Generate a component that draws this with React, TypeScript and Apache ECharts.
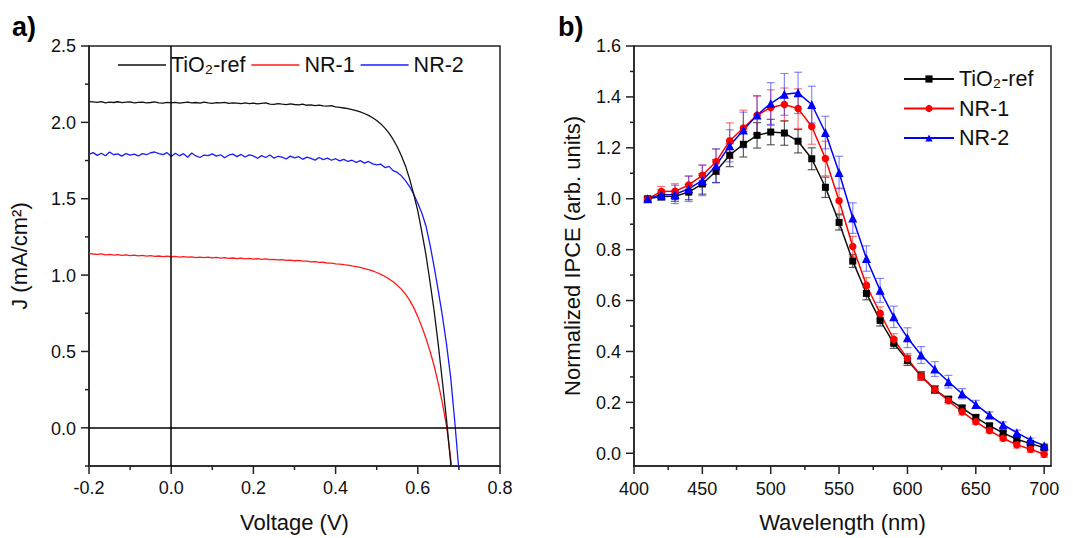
import React, { useEffect, useRef } from 'react';
import * as echarts from 'echarts';

// ---------- Panel a: J-V curves ----------
const voltage = [
  -0.2, -0.19, -0.18, -0.17, -0.16, -0.15, -0.14, -0.13, -0.12, -0.11,
  -0.1, -0.09, -0.08, -0.07, -0.06, -0.05, -0.04, -0.03, -0.02, -0.01,
  0.0, 0.01, 0.02, 0.03, 0.04, 0.05, 0.06, 0.07, 0.08, 0.09,
  0.1, 0.11, 0.12, 0.13, 0.14, 0.15, 0.16, 0.17, 0.18, 0.19,
  0.2, 0.21, 0.22, 0.23, 0.24, 0.25, 0.26, 0.27, 0.28, 0.29,
  0.3, 0.31, 0.32, 0.33, 0.34, 0.35, 0.36, 0.37, 0.38, 0.39,
  0.4, 0.41, 0.42, 0.43, 0.44, 0.45, 0.46, 0.47, 0.48, 0.49,
  0.5, 0.51, 0.52, 0.53, 0.54, 0.55, 0.56, 0.57, 0.58, 0.59,
  0.6, 0.61, 0.62, 0.63, 0.64, 0.65, 0.66, 0.67, 0.68, 0.69,
  0.7,
];

const jTio2 = [
  2.136, 2.134, 2.131, 2.136, 2.128, 2.133, 2.130, 2.135, 2.129, 2.132,
  2.134, 2.128, 2.131, 2.133, 2.127, 2.130, 2.134, 2.128, 2.126, 2.131,
  2.128, 2.131, 2.126, 2.129, 2.132, 2.127, 2.130, 2.126, 2.133, 2.128,
  2.125, 2.129, 2.127, 2.131, 2.124, 2.128, 2.126, 2.122, 2.127, 2.123,
  2.126, 2.121, 2.124, 2.127, 2.120, 2.118, 2.123, 2.119, 2.116, 2.121,
  2.117, 2.114, 2.119, 2.112, 2.115, 2.110, 2.113, 2.108, 2.106, 2.109,
  2.102, 2.098, 2.094, 2.090, 2.084, 2.077, 2.068, 2.058, 2.046, 2.030,
  2.012, 1.990, 1.962, 1.930, 1.888, 1.840, 1.782, 1.715, 1.630, 1.530,
  1.420, 1.280, 1.130, 0.950, 0.760, 0.540, 0.300, 0.050, -0.230, -0.560,
  -0.900,
];

const jNr1 = [
  1.142, 1.138, 1.136, 1.139, 1.133, 1.135, 1.131, 1.134, 1.129, 1.132,
  1.128, 1.131, 1.126, 1.129, 1.124, 1.127, 1.122, 1.125, 1.121, 1.124,
  1.120, 1.123, 1.118, 1.121, 1.117, 1.119, 1.115, 1.118, 1.114, 1.117,
  1.113, 1.116, 1.111, 1.114, 1.110, 1.112, 1.108, 1.111, 1.106, 1.109,
  1.105, 1.108, 1.103, 1.106, 1.101, 1.103, 1.099, 1.101, 1.096, 1.098,
  1.094, 1.096, 1.091, 1.092, 1.087, 1.088, 1.083, 1.084, 1.079, 1.078,
  1.074, 1.072, 1.068, 1.065, 1.060, 1.056, 1.050, 1.043, 1.036, 1.027,
  1.017, 1.005, 0.991, 0.975, 0.956, 0.934, 0.908, 0.876, 0.836, 0.787,
  0.728, 0.660, 0.585, 0.500, 0.403, 0.290, 0.160, 0.010, -0.200, -0.480,
  -0.800,
];

const jNr2 = [
  1.790, 1.802, 1.784, 1.798, 1.781, 1.806, 1.788, 1.794, 1.779, 1.796,
  1.786, 1.792, 1.780, 1.795, 1.788, 1.801, 1.806, 1.796, 1.789, 1.802,
  1.776, 1.798, 1.781, 1.795, 1.772, 1.799, 1.780, 1.770, 1.786, 1.782,
  1.794, 1.779, 1.788, 1.768, 1.785, 1.792, 1.776, 1.790, 1.773, 1.787,
  1.780, 1.765, 1.782, 1.770, 1.786, 1.766, 1.778, 1.772, 1.760, 1.779,
  1.768, 1.775, 1.758, 1.772, 1.764, 1.753, 1.770, 1.756, 1.766, 1.752,
  1.762, 1.748, 1.758, 1.744, 1.752, 1.738, 1.750, 1.733, 1.744, 1.728,
  1.722, 1.726, 1.704, 1.712, 1.684, 1.672, 1.650, 1.618, 1.580, 1.530,
  1.470, 1.405, 1.320, 1.195, 1.050, 0.895, 0.730, 0.545, 0.330, 0.040,
  -0.280,
];

const jvXMajor = [-0.2, 0, 0.2, 0.4, 0.6, 0.8];
const jvXMinor = [-0.1, 0.1, 0.3, 0.5, 0.7];
const jvYMajor = [0, 0.5, 1.0, 1.5, 2.0, 2.5];
const jvYMinor = [-0.25, 0.25, 0.75, 1.25, 1.75, 2.25];

// ---------- Panel b: IPCE ----------
const wavelength = [
  410, 420, 430, 440, 450, 460, 470, 480, 490, 500,
  510, 520, 530, 540, 550, 560, 570, 580, 590, 600,
  610, 620, 630, 640, 650, 660, 670, 680, 690, 700,
];

const ipceTio2 = [
  1.000, 1.009, 1.010, 1.026, 1.058, 1.108, 1.171, 1.214, 1.249, 1.262,
  1.258, 1.226, 1.157, 1.045, 0.907, 0.755, 0.628, 0.522, 0.432, 0.365,
  0.304, 0.250, 0.212, 0.178, 0.141, 0.108, 0.080, 0.055, 0.038, 0.022,
];
const ipceNr1 = [
  1.000, 1.028, 1.029, 1.054, 1.092, 1.145, 1.228, 1.278, 1.328, 1.358,
  1.370, 1.354, 1.284, 1.158, 0.992, 0.812, 0.660, 0.550, 0.448, 0.372,
  0.303, 0.251, 0.207, 0.163, 0.124, 0.089, 0.059, 0.033, 0.016, -0.004,
];
const ipceNr2 = [
  1.000, 1.016, 1.017, 1.039, 1.072, 1.130, 1.208, 1.270, 1.329, 1.374,
  1.410, 1.416, 1.370, 1.260, 1.103, 0.924, 0.765, 0.640, 0.536, 0.454,
  0.386, 0.331, 0.281, 0.234, 0.192, 0.150, 0.112, 0.081, 0.052, 0.030,
];

const errTio2 = [
  0.005, 0.015, 0.02, 0.03, 0.04, 0.045, 0.045, 0.05, 0.05, 0.05,
  0.048, 0.046, 0.043, 0.04, 0.03, 0.025, 0.025, 0.022, 0.02, 0.02,
  0.017, 0.015, 0.012, 0.01, 0.009, 0.008, 0.007, 0.007, 0.006, 0.006,
];
const errNr1 = [
  0.005, 0.02, 0.03, 0.035, 0.04, 0.05, 0.07, 0.07, 0.075, 0.07,
  0.065, 0.078, 0.07, 0.068, 0.05, 0.04, 0.03, 0.025, 0.022, 0.02,
  0.017, 0.015, 0.013, 0.012, 0.01, 0.01, 0.01, 0.012, 0.012, 0.012,
];
const errNr2 = [
  0.01, 0.02, 0.036, 0.05, 0.06, 0.066, 0.063, 0.07, 0.076, 0.082,
  0.082, 0.081, 0.072, 0.064, 0.064, 0.06, 0.05, 0.047, 0.042, 0.039,
  0.033, 0.029, 0.025, 0.02, 0.016, 0.013, 0.011, 0.01, 0.008, 0.007,
];

const ipXMajor = [400, 450, 500, 550, 600, 650, 700];
const ipXMinor = [425, 475, 525, 575, 625, 675];
const ipYMajor = [0, 0.2, 0.4, 0.6, 0.8, 1.0, 1.2, 1.4, 1.6];
const ipYMinor = [0.1, 0.3, 0.5, 0.7, 0.9, 1.1, 1.3, 1.5];

const seriesNames = ['TiO2-ref', 'NR-1', 'NR-2'];

const FONT = 'Liberation Sans, Arial, sans-serif';
const AXIS_COLOR = '#222';
const TXT = '#111';

const LINE = { color: AXIS_COLOR, width: 1.5 };
const labelStyle = { color: TXT, fontSize: 18, fontFamily: FONT };
const nameStyle = { color: TXT, fontSize: 22, fontFamily: FONT };

// plot boxes
const A = { left: 89, top: 46, width: 411, height: 421 };
const B = { left: 634, top: 46, width: 417, height: 421 };
const jvX = [-0.2, 0.8];
const jvY = [-0.25, 2.5];
const ipX = [400, 705];
const ipY = [-0.05, 1.6];

const MAJOR_LEN = 8;
const MINOR_LEN = 4;

const legendFmt = (name: string) => name.split(':')[1].replace('TiO2', 'TiO\u2082');

const labelAxis = (gridIndex: number, min: number, max: number, interval: number, fmt: (v: number) => string, position: string) => ({
  type: 'value', gridIndex, min, max, interval, position,
  axisLine: { show: false, onZero: false },
  axisTick: { show: false },
  axisLabel: { show: true, ...labelStyle, margin: 13, formatter: fmt },
  splitLine: { show: false },
});

const hidden = (gridIndex: number, min: number, max: number) => ({
  type: 'value', gridIndex, min, max, show: false,
});

const panelLabels = [
  { type: 'text', left: 12, top: 13, style: { text: 'a)', font: 'bold 27px ' + FONT, fill: '#000' } },
  { type: 'text', left: 558, top: 13, style: { text: 'b)', font: 'bold 27px ' + FONT, fill: '#000' } },
];

export default function App() {
  const ref = useRef<HTMLDivElement>(null);
  useEffect(() => {
    if (!ref.current) return;
    const chart = echarts.init(ref.current, undefined, { renderer: 'svg' });

    const jv = (arr: number[]) => voltage.map((v, i) => [v, arr[i]]);
    const ip = (arr: number[]) => wavelength.map((w, i) => [w, arr[i]]);
    const eb = (arr: number[], err: number[]) => wavelength.map((w, i) => [w, arr[i] - err[i], arr[i] + err[i]]);

    const errSeries = (name: string, data: any[], color: string) => ({
      type: 'custom',
      name,
      xAxisIndex: 1,
      yAxisIndex: 1,
      z: 3,
      silent: true,
      encode: { x: 0, y: [1, 2] },
      data,
      renderItem: (params: any, api: any) => {
        const x = api.value(0);
        const p1 = api.coord([x, api.value(2)]);
        const p2 = api.coord([x, api.value(1)]);
        const w = 4;
        const style = { stroke: color, lineWidth: 1.2, fill: 'none' };
        return {
          type: 'group',
          children: [
            { type: 'line', shape: { x1: p1[0], y1: p1[1], x2: p2[0], y2: p2[1] }, style },
            { type: 'line', shape: { x1: p1[0] - w, y1: p1[1], x2: p1[0] + w, y2: p1[1] }, style },
            { type: 'line', shape: { x1: p2[0] - w, y1: p2[1], x2: p2[0] + w, y2: p2[1] }, style },
          ],
        };
      },
    });

    const jvYSpan = jvY[1] - jvY[0];
    const ipYSpan = ipY[1] - ipY[0];
    const ipXSpan = ipX[1] - ipX[0];
    const f1 = (v: number) => v.toFixed(1);
    const f0 = (v: number) => String(Math.round(v));

    const option: any = {
      animation: false,
      backgroundColor: '#fff',
      textStyle: { fontFamily: FONT },
      grid: [
        { ...A, show: true, borderColor: AXIS_COLOR, borderWidth: 1.5, backgroundColor: 'transparent' },
        { ...B, show: true, borderColor: AXIS_COLOR, borderWidth: 1.5, backgroundColor: 'transparent' },
        // helper grids: same pixel scale, axis ranges starting on round values (for labels)
        { left: A.left, top: A.top, width: A.width, height: (A.height * jvY[1]) / jvYSpan },
        { left: B.left, top: B.top, width: B.width, height: (B.height * ipY[1]) / ipYSpan },
        { left: B.left, top: B.top, width: (B.width * (700 - ipX[0])) / ipXSpan, height: B.height },
      ],
      xAxis: [
        {
          type: 'value', gridIndex: 0, min: jvX[0], max: jvX[1], interval: 0.2, position: 'bottom',
          axisLine: { show: true, onZero: false, lineStyle: LINE },
          axisTick: { show: false },
          axisLabel: { show: true, ...labelStyle, margin: 13, formatter: f1 },
          splitLine: { show: false },
          name: 'Voltage (V)', nameLocation: 'middle', nameGap: 45, nameTextStyle: nameStyle,
        },
        {
          type: 'value', gridIndex: 1, min: ipX[0], max: ipX[1], position: 'bottom',
          axisLine: { show: true, onZero: false, lineStyle: LINE },
          axisTick: { show: false },
          axisLabel: { show: false },
          splitLine: { show: false },
          name: 'Wavelength (nm)', nameLocation: 'middle', nameGap: 45, nameTextStyle: nameStyle,
        },
        hidden(2, jvX[0], jvX[1]),
        hidden(3, ipX[0], ipX[1]),
        labelAxis(4, 400, 700, 50, f0, 'bottom'),
      ],
      yAxis: [
        {
          type: 'value', gridIndex: 0, min: jvY[0], max: jvY[1], position: 'left',
          axisLine: { show: true, onZero: false, lineStyle: LINE },
          axisTick: { show: false },
          axisLabel: { show: false },
          splitLine: { show: false },
          name: 'J (mA/cm²)', nameLocation: 'middle', nameGap: 59, nameTextStyle: nameStyle,
        },
        {
          type: 'value', gridIndex: 1, min: ipY[0], max: ipY[1], position: 'left',
          axisLine: { show: true, onZero: false, lineStyle: LINE },
          axisTick: { show: false },
          axisLabel: { show: false },
          splitLine: { show: false },
          name: 'Normalized IPCE (arb. units)', nameLocation: 'middle', nameGap: 51, nameTextStyle: nameStyle,
        },
        labelAxis(2, 0, jvY[1], 0.5, f1, 'left'),
        labelAxis(3, 0, ipY[1], 0.2, f1, 'left'),
        hidden(4, ipY[0], ipY[1]),
      ],
      legend: [
        {
          orient: 'horizontal', left: 118, top: 54, padding: 0,
          itemWidth: 48, itemHeight: 1.6, itemGap: 6,
          selectedMode: false,
          data: seriesNames.map((n) => ({ name: 'a:' + n, icon: 'rect' })),
          formatter: legendFmt,
          textStyle: { color: TXT, fontSize: 21.5, fontFamily: FONT },
        },
        {
          orient: 'vertical', left: 903, top: 68, padding: 0,
          itemWidth: 50, itemHeight: 9, itemGap: 7.5,
          selectedMode: false,
          data: seriesNames.map((n) => 'b:' + n),
          formatter: legendFmt,
          textStyle: { color: TXT, fontSize: 21.5, fontFamily: FONT },
        },
      ],
      graphic: panelLabels,
      series: [
        {
          type: 'line', name: 'a:NR-1', xAxisIndex: 0, yAxisIndex: 0, data: jv(jNr1),
          symbol: 'none', color: '#ff1a1a', lineStyle: { width: 1.3, color: '#ff1a1a' }, clip: true, z: 3,
        },
        {
          type: 'line', name: 'a:NR-2', xAxisIndex: 0, yAxisIndex: 0, data: jv(jNr2),
          symbol: 'none', color: '#1a1aff', lineStyle: { width: 1.3, color: '#1a1aff' }, clip: true, z: 3,
        },
        {
          type: 'line', name: 'a:TiO2-ref', xAxisIndex: 0, yAxisIndex: 0, data: jv(jTio2),
          symbol: 'none', color: '#111', lineStyle: { width: 1.3, color: '#111' }, clip: true, z: 4,
          markLine: {
            silent: true, symbol: 'none', label: { show: false },
            lineStyle: { color: '#000', width: 1.5, type: 'solid' },
            data: [{ xAxis: 0 }, { yAxis: 0 }],
          },
        },
        errSeries('errTio2', eb(ipceTio2, errTio2), 'rgba(40,40,40,0.75)'),
        errSeries('errNr1', eb(ipceNr1, errNr1), 'rgba(255,30,30,0.6)'),
        errSeries('errNr2', eb(ipceNr2, errNr2), 'rgba(40,40,255,0.55)'),
        {
          type: 'line', name: 'b:TiO2-ref', xAxisIndex: 1, yAxisIndex: 1, data: ip(ipceTio2),
          symbol: 'rect', symbolSize: 7, showSymbol: true, color: '#000',
          lineStyle: { width: 1.5, color: '#111' }, itemStyle: { color: '#000' }, z: 4,
        },
        {
          type: 'line', name: 'b:NR-1', xAxisIndex: 1, yAxisIndex: 1, data: ip(ipceNr1),
          symbol: 'circle', symbolSize: 7.5, showSymbol: true, color: '#ff0000',
          lineStyle: { width: 1.5, color: '#ff0000' }, itemStyle: { color: '#ff0000' }, z: 4,
        },
        {
          type: 'line', name: 'b:NR-2', xAxisIndex: 1, yAxisIndex: 1, data: ip(ipceNr2),
          symbol: 'triangle', symbolSize: 9, showSymbol: true, color: '#0000ff',
          lineStyle: { width: 1.5, color: '#0000ff' }, itemStyle: { color: '#0000ff' }, z: 4,
        },
      ],
    };

    chart.setOption(option);

    // tick marks, positioned through the axes' own scales
    const ticks: any[] = [];
    const toPx = (seriesIndex: number, gridIndex: number, pt: number[]) => {
      let p: any = null;
      try { p = chart.convertToPixel({ seriesIndex } as any, pt); } catch (e) { p = null; }
      if (!p || !isFinite(p[0]) || !isFinite(p[1])) {
        try { p = chart.convertToPixel({ gridIndex } as any, pt); } catch (e) { p = null; }
      }
      return p as number[] | null;
    };
    const addTicks = (seriesIndex: number, gridIndex: number, dir: 'x' | 'y', anchor: number, values: number[], len: number) => {
      values.forEach((v) => {
        const p = toPx(seriesIndex, gridIndex, dir === 'x' ? [v, anchor] : [anchor, v]);
        if (!p) return;
        const shape = dir === 'x'
          ? { x1: p[0], y1: p[1], x2: p[0], y2: p[1] + len }
          : { x1: p[0], y1: p[1], x2: p[0] - len, y2: p[1] };
        ticks.push({ type: 'line', silent: true, z: 100, shape, style: { stroke: AXIS_COLOR, lineWidth: 1.5 } });
      });
    };
    // series 0 lives on panel a, series 6 on panel b
    addTicks(0, 0, 'x', jvY[0], jvXMajor, MAJOR_LEN);
    addTicks(0, 0, 'x', jvY[0], jvXMinor, MINOR_LEN);
    addTicks(0, 0, 'y', jvX[0], jvYMajor, MAJOR_LEN);
    addTicks(0, 0, 'y', jvX[0], jvYMinor, MINOR_LEN);
    addTicks(6, 1, 'x', ipY[0], ipXMajor, MAJOR_LEN);
    addTicks(6, 1, 'x', ipY[0], ipXMinor, MINOR_LEN);
    addTicks(6, 1, 'y', ipX[0], ipYMajor, MAJOR_LEN);
    addTicks(6, 1, 'y', ipX[0], ipYMinor, MINOR_LEN);

    chart.setOption({ graphic: [...panelLabels, ...ticks] });

    return () => chart.dispose();
  }, []);

  return (
    <div
      ref={ref}
      style={{ position: 'fixed', left: 0, top: 0, width: 1073, height: 538, background: '#fff' }}
    />
  );
}
